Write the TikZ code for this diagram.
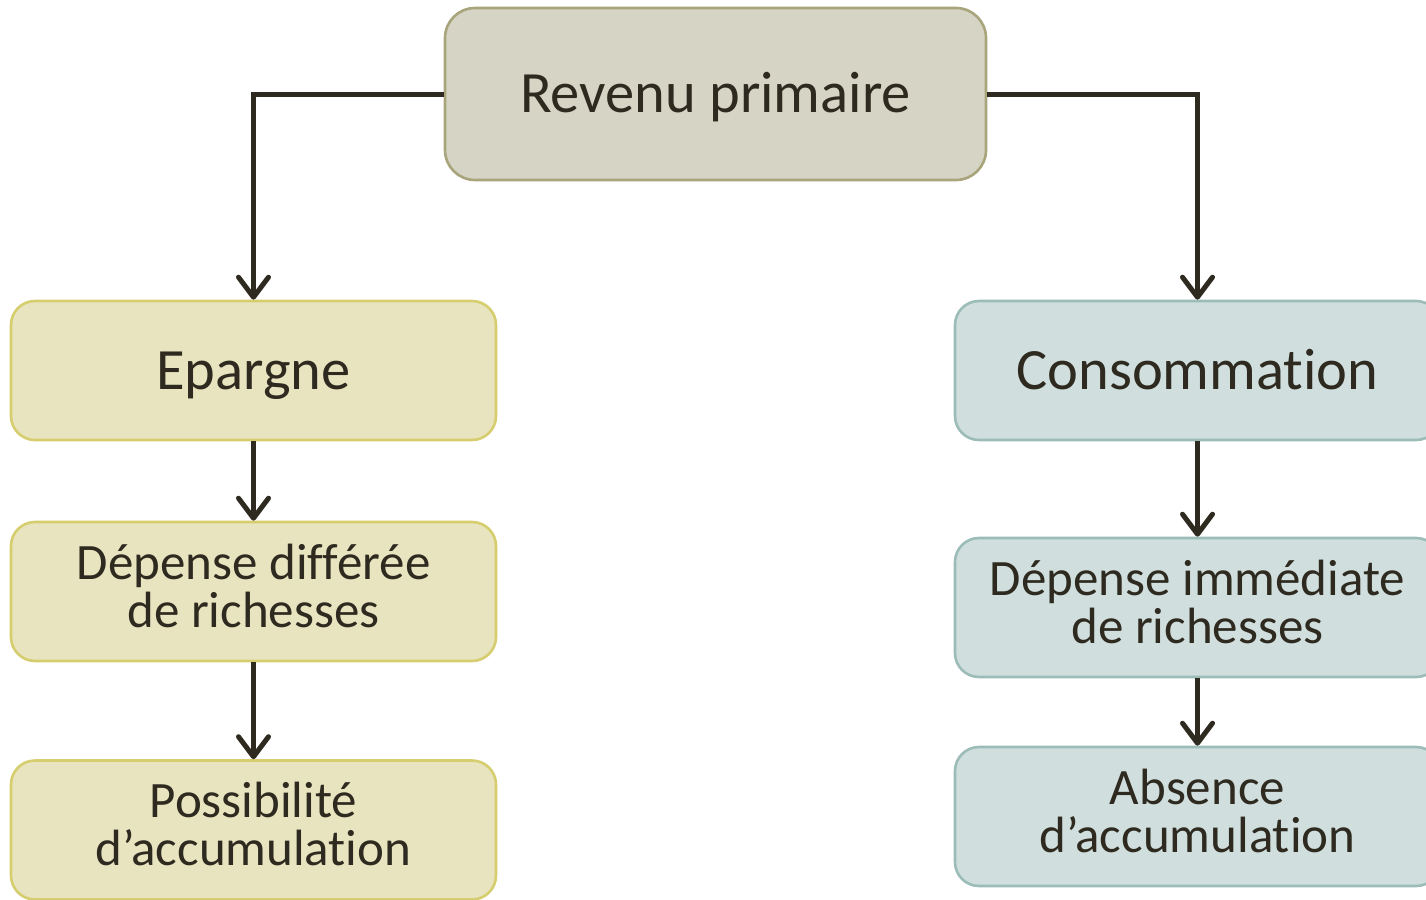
\documentclass[tikz,border=0pt]{standalone}
\usepackage{fontspec}
\setmainfont{Carlito}[Ligatures=NoCommon]
\usetikzlibrary{arrows.meta}
\definecolor{inkdark}{HTML}{2E2A20}
\definecolor{topfill}{HTML}{D6D4C4}
\definecolor{topline}{HTML}{A8A47C}
\definecolor{leftfill}{HTML}{E8E4C0}
\definecolor{leftline}{HTML}{D6CE6E}
\definecolor{rightfill}{HTML}{D0DFDE}
\definecolor{rightline}{HTML}{9CBCB8}
\tikzset{
  box/.style={rectangle, rounded corners=24pt, line width=2.6pt, text=inkdark,
    align=center, inner sep=0pt, minimum width=485pt, minimum height=139pt},
  bigtext/.style={font=\fontsize{58.5}{60}\selectfont,
    text height=37pt, text depth=0pt},
  % two-line labels: box spans from the first cap line to the last baseline
  smalltext/.style={font=\fontsize{51}{48}\selectfont,
    text height=81pt, text depth=10pt},
  topbox/.style={box, bigtext, fill=topfill, draw=topline, rounded corners=30pt,
    minimum width=541pt, minimum height=172pt},
  leftbox/.style={box, fill=leftfill, draw=leftline},
  rightbox/.style={box, fill=rightfill, draw=rightline},
  link/.style={draw=inkdark, line width=5pt,
    -{Straight Barb[length=20pt,width=30pt,round]}},
}
\begin{document}
\begin{tikzpicture}[x=1pt,y=-1pt]
  \clip (0,0) rectangle (1426,899);
  \fill[white] (0,0) rectangle (1426,899);

  % top level
  \node[topbox] (rev) at (715.5,94) {Revenu primaire};

  % saving branch
  \node[leftbox, bigtext] (ep) at (253.5,370.5) {Epargne};
  \node[leftbox, smalltext] (dd) at (253.5,591.5) {Dépense différée\\de richesses};
  \node[leftbox, smalltext] (pa) at (253.5,830) {Possibilité\\d’accumulation};

  % consumption branch
  \node[rightbox, bigtext] (co) at (1197.5,370.5) {Consommation};
  \node[rightbox, smalltext] (di) at (1197.5,607.5) {Dépense immédiate\\de richesses};
  \node[rightbox, smalltext] (ab) at (1197.5,816.5) {Absence\\d’accumulation};

  % connectors
  \draw[link] (rev.west) -| (ep.north);
  \draw[link] (rev.east) -| (co.north);
  \draw[link] (ep) -- (dd);
  \draw[link] (dd) -- (pa);
  \draw[link] (co) -- (di);
  \draw[link] (di) -- (ab);
\end{tikzpicture}
\end{document}
